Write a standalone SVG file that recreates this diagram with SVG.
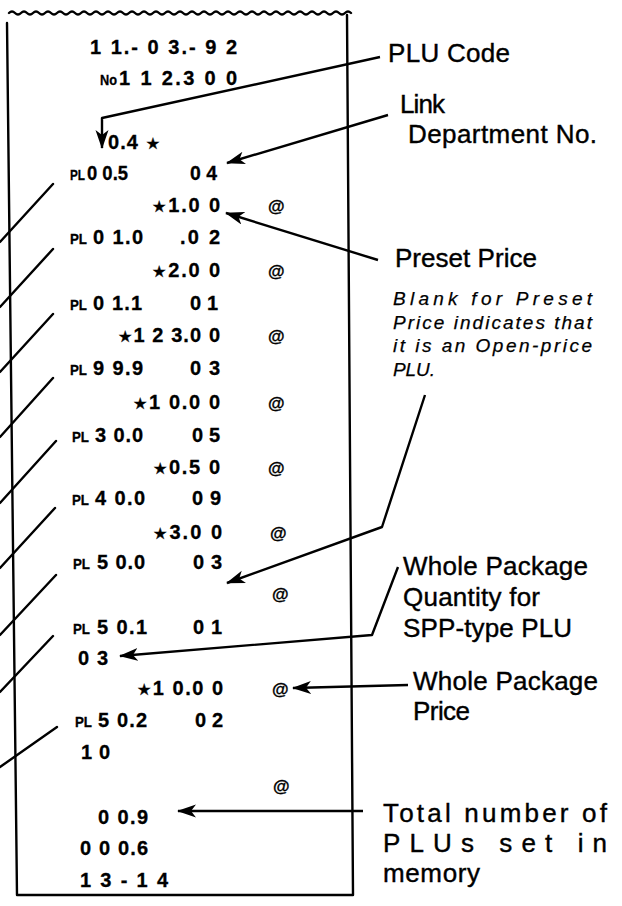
<svg xmlns="http://www.w3.org/2000/svg" width="622" height="906" viewBox="0 0 622 906">
<defs>
<marker id="ah" markerUnits="userSpaceOnUse" markerWidth="20" markerHeight="14" refX="18" refY="6.5" orient="auto"><path d="M0,0 L19,6.5 L0,13 L5,6.5 Z" fill="#000"/></marker>
<style>
.ln{fill:none;stroke:#000;stroke-width:2.4;stroke-linecap:round;stroke-linejoin:round}
.ar{fill:none;stroke:#000;stroke-width:2.4;stroke-linejoin:round;marker-end:url(#ah)}
.r{font-family:"Liberation Sans","DejaVu Sans",sans-serif;font-weight:bold;font-size:20px;fill:#000;stroke:#000;stroke-width:0.3}
.pl{font-size:14px}
.at{font-size:17px}
.st{font-family:"DejaVu Sans",sans-serif;font-size:16px}
.lb{font-family:"Liberation Sans",Arial,sans-serif;font-size:26px;fill:#000;stroke:#000;stroke-width:0.4}
.it{font-family:"Liberation Sans",Arial,sans-serif;font-style:italic;font-size:19px;fill:#000;stroke:#000;stroke-width:0.25}
</style>
</defs>
<rect width="622" height="906" fill="#fff"/>
<g id="receipt">
<path class="ln" stroke-width="2" d="M9,13 q3,-3 6,0 t6,0 t6,0 t6,0 t6,0 t6,0 t6,0 t6,0 t6,0 t6,0 t6,0 t6,0 t6,0 t6,0 t6,0 t6,0 t6,0 t6,0 t6,0 t6,0 t6,0 t6,0 t6,0 t6,0 t6,0 t6,0 t6,0 t6,0 t6,0 t6,0 t6,0 t6,0 t6,0 t6,0 t6,0 t6,0 t6,0 t6,0 t6,0 t6,0 t6,0 t6,0 t6,0 t6,0 t6,0 t6,0 t6,0 t6,0 t6,0 t6,0 t6,0 t6,0 t6,0 t6,0 t6,0 t6,0 t6,0"/>
<path class="ln" d="M7,23 L17,895 L353,895 L347,15"/>
<g class="r">
<text x="90" y="54" textLength="147">1 1.- 0 3.- 9 2</text>
<text x="100" y="85" font-size="15" textLength="17" lengthAdjust="spacingAndGlyphs">No</text>
<text x="119" y="85" textLength="118">1 1 2.3 0 0</text>
<text x="108" y="149" textLength="52">0.4 <tspan class="st">★</tspan></text>
<text x="70" y="180" class="pl" textLength="15" lengthAdjust="spacingAndGlyphs">PL</text><text x="87" y="180" textLength="41" lengthAdjust="spacingAndGlyphs">0 0.5</text><text x="190" y="180" textLength="27" lengthAdjust="spacingAndGlyphs">0 4</text>
<text x="152" y="212" textLength="68"><tspan class="st">★</tspan>1.0 0</text><text x="268" y="212" class="at" textLength="10">@</text>
<text x="70" y="244" class="pl" textLength="17" lengthAdjust="spacingAndGlyphs">PL</text><text x="93" y="244" textLength="50">0 1.0</text><text x="180" y="244" textLength="40">.0 2</text>
<text x="152" y="277" textLength="68"><tspan class="st">★</tspan>2.0 0</text><text x="268" y="277" class="at" textLength="10">@</text>
<text x="70" y="310" class="pl" textLength="17" lengthAdjust="spacingAndGlyphs">PL</text><text x="93" y="310" textLength="49">0 1.1</text><text x="190" y="310" textLength="28">0 1</text>
<text x="118" y="342" textLength="102"><tspan class="st">★</tspan>1 2 3.0 0</text><text x="268" y="342" class="at" textLength="10">@</text>
<text x="70" y="375" class="pl" textLength="17" lengthAdjust="spacingAndGlyphs">PL</text><text x="93" y="375" textLength="50">9 9.9</text><text x="190" y="375" textLength="30">0 3</text>
<text x="133" y="409" textLength="87"><tspan class="st">★</tspan>1 0.0 0</text><text x="268" y="409" class="at" textLength="10">@</text>
<text x="72" y="442" class="pl" textLength="17" lengthAdjust="spacingAndGlyphs">PL</text><text x="95" y="442" textLength="48">3 0.0</text><text x="192" y="442" textLength="28">0 5</text>
<text x="153" y="474" textLength="67"><tspan class="st">★</tspan>0.5 0</text><text x="268" y="474" class="at" textLength="10">@</text>
<text x="72" y="505" class="pl" textLength="17" lengthAdjust="spacingAndGlyphs">PL</text><text x="95" y="505" textLength="50">4 0.0</text><text x="192" y="505" textLength="29">0 9</text>
<text x="153" y="539" textLength="69"><tspan class="st">★</tspan>3.0 0</text><text x="270" y="539" class="at" textLength="10">@</text>
<text x="73" y="569" class="pl" textLength="17" lengthAdjust="spacingAndGlyphs">PL</text><text x="97" y="569" textLength="48">5 0.0</text><text x="193" y="569" textLength="29">0 3</text>
<text x="272" y="600" class="at" textLength="10">@</text>
<text x="73" y="634" class="pl" textLength="17" lengthAdjust="spacingAndGlyphs">PL</text><text x="97" y="634" textLength="50">5 0.1</text><text x="193" y="634" textLength="29">0 1</text>
<text x="78" y="665" textLength="30">0 3</text>
<text x="137" y="695" textLength="86"><tspan class="st">★</tspan>1 0.0 0</text><text x="272" y="695" class="at" textLength="10">@</text>
<text x="75" y="727" class="pl" textLength="17" lengthAdjust="spacingAndGlyphs">PL</text><text x="98" y="727" textLength="49">5 0.2</text><text x="195" y="727" textLength="28">0 2</text>
<text x="81" y="759" textLength="29">1 0</text>
<text x="273" y="792" class="at" textLength="10">@</text>
<text x="98" y="824" textLength="50">0 0.9</text>
<text x="80" y="855" textLength="68">0 0 0.6</text>
<text x="80" y="887" textLength="88">1 3 - 1 4</text>
</g>
</g>
<g id="connectors">
<path class="ar" d="M380,57 L102,118 L102,148"/>
<path class="ar" d="M388,115 L227,163"/>
<path class="ar" d="M378,260 L226,213"/>
<path class="ar" d="M425,395 L382,527 L227,583"/>
<path class="ar" d="M398,567 L372,635 L120,656"/>
<path class="ar" d="M408,685 L293,688"/>
<path class="ar" d="M363,811 L178,811"/>
<path class="ln" d="M53,184 L0,242 M53,249 L0,307 M53,314 L0,372 M53,378 L0,437 M56,441 L0,503 M55,508 L0,568 M56,575 L0,635 M53,636 L0,692 M57,727 L0,767"/>
</g>
<g id="label-plu-code"><text class="lb" x="388" y="62" textLength="122">PLU Code</text></g>
<g id="label-link-dept"><text class="lb" x="400" y="113" textLength="45">Link</text><text class="lb" x="408" y="143" textLength="189">Department No.</text></g>
<g id="label-preset-price"><text class="lb" x="395" y="267" textLength="142">Preset Price</text>
<text class="it" x="393" y="305" textLength="199">Blank for Preset</text>
<text class="it" x="393" y="329" textLength="199">Price indicates that</text>
<text class="it" x="393" y="352" textLength="199">it is an Open-price</text>
<text class="it" x="393" y="376" textLength="42">PLU.</text></g>
<g id="label-whole-qty"><text class="lb" x="403" y="575" textLength="185">Whole Package</text><text class="lb" x="403" y="606" textLength="137">Quantity for</text><text class="lb" x="403" y="637" textLength="169">SPP-type PLU</text></g>
<g id="label-whole-price"><text class="lb" x="413" y="690" textLength="185">Whole Package</text><text class="lb" x="413" y="720" textLength="57">Price</text></g>
<g id="label-total"><text class="lb" x="383" y="822" textLength="224">Total number of</text><text class="lb" x="383" y="852" textLength="224">PLUs set in</text><text class="lb" x="383" y="882" textLength="97">memory</text></g>
</svg>
